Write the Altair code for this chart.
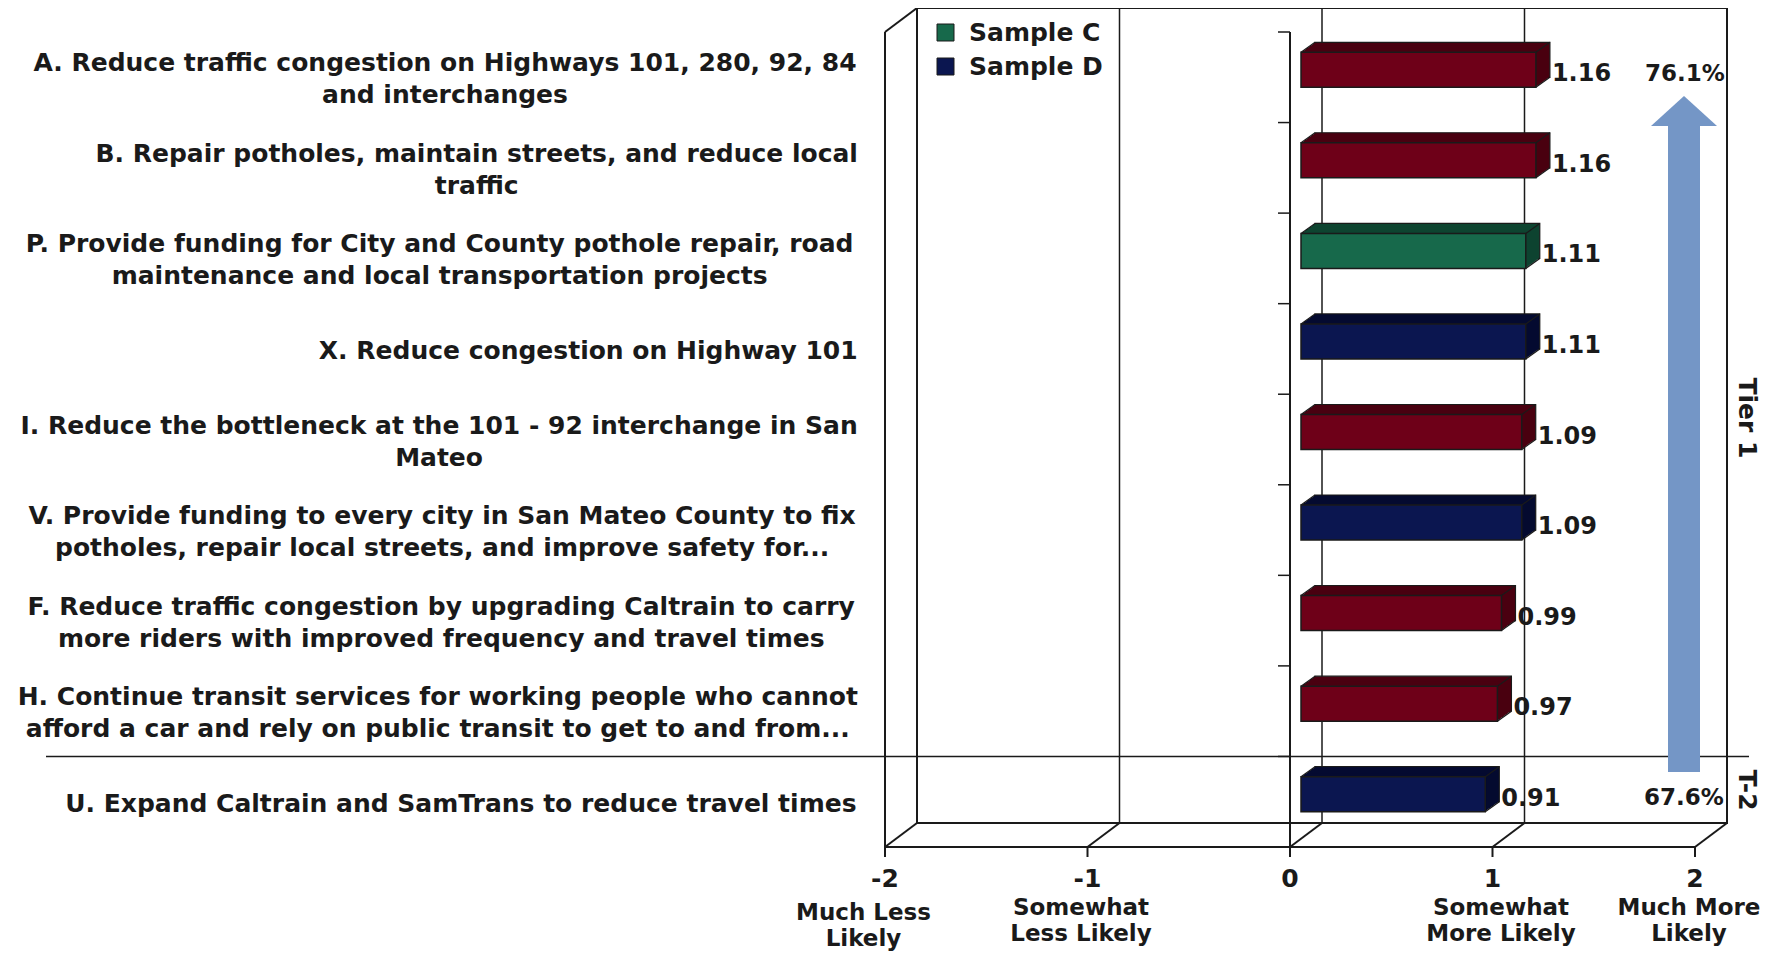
import altair as alt
import pandas as pd

# ---------------- data ----------------
labels = [
    "A. Reduce traffic congestion on Highways 101, 280, 92, 84\nand interchanges",
    "B. Repair potholes, maintain streets, and reduce local\ntraffic",
    "P. Provide funding for City and County pothole repair, road\nmaintenance and local transportation projects",
    "X. Reduce congestion on Highway 101",
    "I. Reduce the bottleneck at the 101 - 92 interchange in San\nMateo",
    "V. Provide funding to every city in San Mateo County to fix\npotholes, repair local streets, and improve safety for...",
    "F. Reduce traffic congestion by upgrading Caltrain to carry\nmore riders with improved frequency and travel times",
    "H. Continue transit services for working people who cannot\nafford a car and rely on public transit to get to and from...",
    "U. Expand Caltrain and SamTrans to reduce travel times",
]
values = [1.16, 1.16, 1.11, 1.11, 1.09, 1.09, 0.99, 0.97, 0.91]
samples = ["Sample C & D", "Sample C & D", "Sample C", "Sample D", "Sample C & D",
           "Sample D", "Sample C & D", "Sample C & D", "Sample D"]
sample_names = ["Sample C & D", "Sample C", "Sample D"]
legend_names = ["Sample C", "Sample D"]
tick_values = [-2, -1, 0, 1, 2]
tick_labels = ["-2", "-1", "0", "1", "2"]
scale_words = ["Much Less\nLikely", "Somewhat\nLess Likely", "", "Somewhat\nMore Likely", "Much More\nLikely"]
tier_pcts = ["76.1%", "67.6%"]
tier_names = ["Tier 1", "T-2"]
tier_split = 8  # boundary between H and U

# ---------------- style / layout ----------------
front_colors = ["#6E0018", "#17694B", "#0B1650"]
face_colors = ["#4A0010", "#0E4430", "#050B30"]
ARROW = "#7496C6"
INK = "#1a1a1a"
FONT = "DejaVu Sans"
W, H = 810, 815
PAD = {"left": 877, "top": 24, "right": 67, "bottom": 104}
DX, DY = 32, -24          # depth of the 3-D box
BX, BY = 11, -7.5         # bar front-face shift
BD, BDY = 14, -10         # bar depth
BAR_H = 35
LABEL_RIGHT = -27
LABEL_LH = 32
WORD_LH = 26
word_shift_px = [-21.5, -6.5, 0, 8.5, -6]
word_off_px = [65.5, 60.5, 60.5, 60.5, 60.5]

PXU = W / 4.0   # px per x unit
PXR = H / 9.0   # px per row

W_TABLE = {' ': 713, '.': 780, ',': 780, '-': 852, '&': 1751,
           'A': 1585, 'B': 1561, 'C': 1499, 'D': 1700, 'E': 1399, 'F': 1399, 'G': 1681, 'H': 1714,
           'I': 762, 'J': 762, 'K': 1577, 'L': 1331, 'M': 2033, 'N': 1714, 'O': 1741, 'P': 1532,
           'Q': 1741, 'R': 1575, 'S': 1479, 'T': 1397, 'U': 1663, 'V': 1585, 'W': 2265, 'X': 1583,
           'Y': 1483, 'Z': 1485,
           'a': 1382, 'b': 1466, 'c': 1219, 'd': 1466, 'e': 1389, 'f': 891, 'g': 1466, 'h': 1458,
           'i': 702, 'j': 702, 'k': 1391, 'l': 702, 'm': 2134, 'n': 1458, 'o': 1407, 'p': 1466,
           'q': 1466, 'r': 1010, 's': 1219, 't': 979, 'u': 1458, 'v': 1335, 'w': 1878, 'x': 1331,
           'y': 1335, 'z': 1192}
for d in "0123456789":
    W_TABLE[d] = 1425


def tw(s, size):
    return sum(W_TABLE.get(ch, 1400) for ch in s) * size / 2048.0


xs = alt.Scale(domain=[-2, 2], nice=False, zero=False)
ys = alt.Scale(domain=[0, 9], nice=False, zero=False, reverse=True)


def X(f):
    return alt.X(f"{f}:Q", scale=xs, axis=None)


def Y(f):
    return alt.Y(f"{f}:Q", scale=ys, axis=None)


def X2(f):
    return alt.X2(f"{f}:Q")


def Y2(f):
    return alt.Y2(f"{f}:Q")


# ---------------- tables ----------------
n = len(labels)
bars = pd.DataFrame({"label": labels, "value": values, "sample": samples})
bars["c"] = [i + 0.5 for i in range(n)]
bars["zero"] = 0.0
bars["face"] = [face_colors[sample_names.index(s)] for s in samples]

lab = pd.DataFrame({"label": labels})
lab["cx"] = [-2 + (LABEL_RIGHT - max(tw(l, 25) for l in s.split("\n")) / 2) / PXU for s in labels]
lab["cy"] = [i + 0.5 - (len(s.split("\n")) - 1) * LABEL_LH / 2 / PXR for i, s in enumerate(labels)]

edges = pd.DataFrame({
    "c": list(bars["c"]) * 3,
    "xe": [0.0] * n + list(values) + list(values),
    "pos": ["top"] * n + ["top"] * n + ["bottom"] * n,
})

box = pd.DataFrame({"x0": [-2], "x1": [2], "y0": [0], "y1": [9]})
grid = pd.DataFrame({"v": [-1, 0, 1], "y0": 0, "y1": 9})
verts = pd.DataFrame({"v": [-2, 0], "y0": 0, "y1": 9})
diags = pd.DataFrame({"v": [-2] + tick_values, "y": [0] + [9] * 5})
ticks = pd.DataFrame({"v": tick_values, "t": tick_labels, "y": 9})
bounds = pd.DataFrame({"b": list(range(9)), "z": 0})
sep = pd.DataFrame({"b": [tier_split]})
words = pd.DataFrame({
    "w": scale_words,
    "x": [v + s / PXU for v, s in zip(tick_values, word_shift_px)],
    "y": [9 + o / PXR for o in word_off_px],
})
words = words[words["w"] != ""]
one = pd.DataFrame({"k": [0]})

layers = []

# back wall + grid
layers.append(alt.Chart(box).mark_rect(
    fill="transparent", stroke=INK, strokeWidth=2,
    xOffset=DX, x2Offset=DX, yOffset=DY, y2Offset=DY
).encode(x=X("x0"), x2=X2("x1"), y=Y("y0"), y2=Y2("y1")))
layers.append(alt.Chart(grid).mark_rule(
    color=INK, strokeWidth=1.5, xOffset=DX, yOffset=DY, y2Offset=DY
).encode(x=X("v"), y=Y("y0"), y2=Y2("y1")))
# front vertical edges (left wall + value axis)
layers.append(alt.Chart(verts).mark_rule(color=INK, strokeWidth=2).encode(
    x=X("v"), y=Y("y0"), y2=Y2("y1")))
# floor front edge
layers.append(alt.Chart(box).mark_rule(color=INK, strokeWidth=2).encode(
    x=X("x0"), x2=X2("x1"), y=Y("y1")))
# depth diagonals
layers.append(alt.Chart(diags).mark_rule(
    color=INK, strokeWidth=2, x2Offset=DX, y2Offset=DY
).encode(x=X("v"), x2=X2("v"), y=Y("y"), y2=Y2("y")))
# ticks under floor
layers.append(alt.Chart(ticks).mark_rule(color=INK, strokeWidth=2, y2Offset=10).encode(
    x=X("v"), y=Y("y"), y2=Y2("y")))
# category ticks on value axis
layers.append(alt.Chart(bounds).mark_rule(color=INK, strokeWidth=1.5, x2Offset=-12).encode(
    x=X("z"), x2=X2("z"), y=Y("b"), y2=Y2("b")))

# bars: extruded faces
for k in range(BD, 0, -1):
    dyk = BDY * k / BD
    kw = dict(xOffset=BX + k, x2Offset=BX + k,
              yOffset=BY - BAR_H / 2 + dyk, y2Offset=BY + BAR_H / 2 + dyk)
    if k == BD:
        kw.update(stroke=INK, strokeWidth=1.2)
    layers.append(alt.Chart(bars).mark_rect(**kw).encode(
        x=X("zero"), x2=X2("value"), y=Y("c"), y2=Y2("c"),
        color=alt.Color("face:N", scale=None)))
layers.append(alt.Chart(edges).transform_filter(alt.datum.pos == "top").mark_rule(
    color=INK, strokeWidth=1.2, xOffset=BX, x2Offset=BX + BD,
    yOffset=BY - BAR_H / 2, y2Offset=BY - BAR_H / 2 + BDY
).encode(x=X("xe"), x2=X2("xe"), y=Y("c"), y2=Y2("c")))
layers.append(alt.Chart(edges).transform_filter(alt.datum.pos == "bottom").mark_rule(
    color=INK, strokeWidth=1.2, xOffset=BX, x2Offset=BX + BD,
    yOffset=BY + BAR_H / 2, y2Offset=BY + BAR_H / 2 + BDY
).encode(x=X("xe"), x2=X2("xe"), y=Y("c"), y2=Y2("c")))
# bars: front face (with legend)
layers.append(alt.Chart(bars).mark_rect(
    stroke=INK, strokeWidth=1.5, xOffset=BX, x2Offset=BX,
    yOffset=BY - BAR_H / 2, y2Offset=BY + BAR_H / 2
).encode(
    x=X("zero"), x2=X2("value"), y=Y("c"), y2=Y2("c"),
    color=alt.Color("sample:N", scale=alt.Scale(domain=sample_names, range=front_colors),
                    legend=alt.Legend(values=legend_names, orient="none", legendX=48, legendY=-12,
                                      title=None, symbolType="square", symbolSize=289,
                                      symbolStrokeColor=INK, symbolStrokeWidth=1,
                                      labelFont=FONT, labelFontWeight="bold", labelFontSize=25,
                                      labelColor=INK, labelOffset=11, rowPadding=8, padding=0,
                                      labelLimit=400))
))
# value labels
layers.append(alt.Chart(bars).mark_text(
    align="left", baseline="alphabetic", xOffset=BX + BD + 2, yOffset=4,
    font=FONT, fontWeight="bold", fontSize=24, color=INK
).encode(x=X("value"), y=Y("c"), text=alt.Text("value:Q", format=".2f")))

# category labels
layers.append(alt.Chart(lab).mark_text(
    align="center", baseline="middle", lineBreak="\n", lineHeight=LABEL_LH, yOffset=2,
    font=FONT, fontWeight="bold", fontSize=25, color=INK
).encode(x=X("cx"), y=Y("cy"), text="label:N"))

# tick numbers and scale words
layers.append(alt.Chart(ticks).mark_text(
    align="center", baseline="alphabetic", yOffset=40,
    font=FONT, fontWeight="bold", fontSize=25, color=INK
).encode(x=X("v"), y=Y("y"), text="t:N"))
layers.append(alt.Chart(words).mark_text(
    align="center", baseline="middle", lineBreak="\n", lineHeight=WORD_LH,
    font=FONT, fontWeight="bold", fontSize=23, color=INK
).encode(x=X("x"), y=Y("y"), text="w:N"))

# tier separator
layers.append(alt.Chart(sep).mark_rule(color=INK, strokeWidth=1.5).encode(
    x=alt.value(-839), x2=alt.value(864), y=Y("b")))

# arrow
layers.append(alt.Chart(one).mark_rect(color=ARROW).encode(
    x=alt.value(783), x2=alt.value(815), y=alt.value(94), y2=alt.value(740)))
layers.append(alt.Chart(one).mark_point(
    shape="M0,-0.4545L1,0.4545L-1,0.4545Z", size=66 * 66, filled=True,
    color=ARROW, opacity=1, strokeWidth=0
).encode(x=alt.value(799), y=alt.value(79)))

# tier annotations
layers.append(alt.Chart(one).mark_text(
    text=tier_pcts[0], align="center", baseline="alphabetic",
    font=FONT, fontWeight="bold", fontSize=23, color=INK
).encode(x=alt.value(800), y=alt.value(49)))
layers.append(alt.Chart(one).mark_text(
    text=tier_pcts[1], align="center", baseline="alphabetic",
    font=FONT, fontWeight="bold", fontSize=23, color=INK
).encode(x=alt.value(799), y=alt.value(773)))
layers.append(alt.Chart(one).mark_text(
    text=tier_names[0], align="center", baseline="middle", angle=90,
    font=FONT, fontWeight="bold", fontSize=25, color=INK
).encode(x=alt.value(862), y=alt.value(386)))
layers.append(alt.Chart(one).mark_text(
    text=tier_names[1], align="center", baseline="middle", angle=90,
    font=FONT, fontWeight="bold", fontSize=25, color=INK
).encode(x=alt.value(862), y=alt.value(758)))

chart = alt.layer(*layers).properties(
    width=W, height=H, padding=PAD,
    autosize=alt.AutoSizeParams(type="none"),
    background="white",
).configure_view(stroke="transparent")

chart.save("out.html", embed_options={"renderer": "svg", "actions": False})
